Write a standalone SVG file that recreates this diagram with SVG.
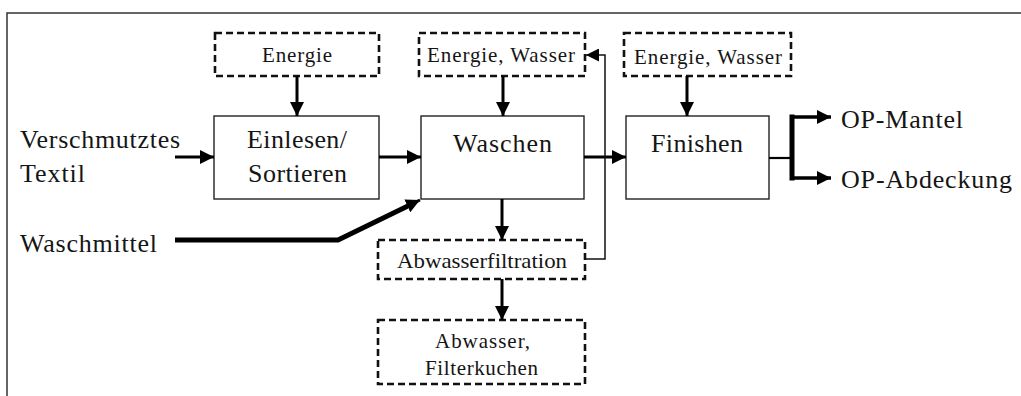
<svg xmlns="http://www.w3.org/2000/svg" width="1021" height="396" viewBox="0 0 1021 396">
  <defs>
    <style>
      .frame { fill: none; stroke: #333; stroke-width: 1.5; }
      .box { fill: #fff; stroke: #222; stroke-width: 1.4; }
      .dbox { fill: #fff; stroke: #111; stroke-width: 2.6; stroke-dasharray: 7 4; }
      .lbl { font-family: 'Liberation Serif', 'Times New Roman', serif; font-size: 26px; fill: #151515; }
      .sm { font-family: 'Liberation Serif', 'Times New Roman', serif; font-size: 21px; fill: #151515; }
      .flow { fill: none; stroke: #000; stroke-width: 3; }
      .thin { fill: none; stroke: #111; stroke-width: 1.5; }
      .heavy { fill: none; stroke: #000; stroke-width: 5; stroke-linejoin: miter; }
    </style>
    <marker id="ah" viewBox="0 0 14 14" refX="14" refY="7" markerWidth="14" markerHeight="14" markerUnits="userSpaceOnUse" orient="auto">
      <path d="M0,0 L14,7 L0,14 z" fill="#000"/>
    </marker>
    <marker id="ahs" viewBox="0 0 14 14" refX="14" refY="7" markerWidth="13" markerHeight="13" markerUnits="userSpaceOnUse" orient="auto">
      <path d="M0,0 L14,7 L0,14 z" fill="#000"/>
    </marker>
  </defs>

  <rect width="1021" height="396" fill="#fff"/>
  <!-- partial page frame -->
  <path class="frame" d="M7,396 V13 H1021"/>

  <!-- free-standing input/output labels -->
  <g id="in-textil">
    <text class="lbl" x="20" y="148" textLength="160" lengthAdjust="spacing">Verschmutztes</text>
    <text class="lbl" x="20" y="182" textLength="65" lengthAdjust="spacing">Textil</text>
  </g>
  <g id="in-waschmittel">
    <text class="lbl" x="20" y="252" textLength="137" lengthAdjust="spacing">Waschmittel</text>
  </g>
  <g id="out-mantel">
    <text class="lbl" x="841" y="128" textLength="122" lengthAdjust="spacing">OP-Mantel</text>
  </g>
  <g id="out-abdeckung">
    <text class="lbl" x="841" y="188" textLength="171" lengthAdjust="spacing">OP-Abdeckung</text>
  </g>

  <!-- resource boxes -->
  <g id="res-energie">
    <rect class="dbox" x="215" y="33" width="164" height="43"/>
    <text class="sm" x="262" y="62" textLength="70" lengthAdjust="spacing">Energie</text>
  </g>
  <g id="res-ew-waschen">
    <rect class="dbox" x="419" y="33" width="166" height="43"/>
    <text class="sm" x="427" y="62" textLength="148" lengthAdjust="spacing">Energie, Wasser</text>
  </g>
  <g id="res-ew-finishen">
    <rect class="dbox" x="624" y="33" width="167" height="43"/>
    <text class="sm" x="634" y="64" textLength="148" lengthAdjust="spacing">Energie, Wasser</text>
  </g>

  <!-- process steps -->
  <g id="step-einlesen">
    <rect class="box" x="214" y="116" width="165" height="83"/>
    <text class="lbl" x="247" y="148" textLength="100" lengthAdjust="spacing">Einlesen/</text>
    <text class="lbl" x="248" y="182" textLength="99" lengthAdjust="spacing">Sortieren</text>
  </g>
  <g id="step-waschen">
    <rect class="box" x="421" y="116" width="163" height="83"/>
    <text class="lbl" x="453" y="152" textLength="99" lengthAdjust="spacing">Waschen</text>
  </g>
  <g id="step-finishen">
    <rect class="box" x="626" y="116" width="143" height="83"/>
    <text class="lbl" x="651" y="152" textLength="92" lengthAdjust="spacing">Finishen</text>
  </g>
  <g id="step-filtration">
    <rect class="dbox" x="378" y="240" width="207" height="39"/>
    <text class="sm" x="397" y="268" textLength="170" lengthAdjust="spacingAndGlyphs">Abwasserfiltration</text>
  </g>
  <g id="res-abwasser">
    <rect class="dbox" x="378" y="320" width="207" height="64"/>
    <text class="sm" x="435" y="348" textLength="95" lengthAdjust="spacing">Abwasser,</text>
    <text class="sm" x="425" y="375" textLength="113" lengthAdjust="spacing">Filterkuchen</text>
  </g>

  <!-- connectors -->
  <g id="connectors">
    <path class="flow" d="M297,76 V116" marker-end="url(#ah)"/>
    <path class="flow" d="M503,76 V116" marker-end="url(#ah)"/>
    <path class="flow" d="M687,76 V116" marker-end="url(#ah)"/>
    <path class="flow" d="M175,157 H214" marker-end="url(#ah)"/>
    <path class="flow" d="M379,157 H421" marker-end="url(#ah)"/>
    <path class="flow" d="M584,157 H626" marker-end="url(#ah)"/>
    <path class="flow" d="M502,199 V240" marker-end="url(#ah)"/>
    <path class="flow" d="M502,279 V320" marker-end="url(#ah)"/>
    <!-- filtered water fed back to the wash -->
    <path class="thin" d="M585,259 H605 V55 H586" marker-end="url(#ahs)"/>
    <!-- detergent feed -->
    <path class="heavy" d="M175,240 H338 L412,204"/>
    <path class="flow" d="M405,207 L420,200" marker-end="url(#ah)"/>
    <!-- product split -->
    <path class="flow" d="M769,158 H792" style="stroke-width:2.2"/>
    <path class="heavy" d="M792,114.5 V180.5"/>
    <path class="flow" d="M790,117 H831" style="stroke-width:3.5" marker-end="url(#ah)"/>
    <path class="flow" d="M790,178 H831" style="stroke-width:3.5" marker-end="url(#ah)"/>
  </g>
</svg>
